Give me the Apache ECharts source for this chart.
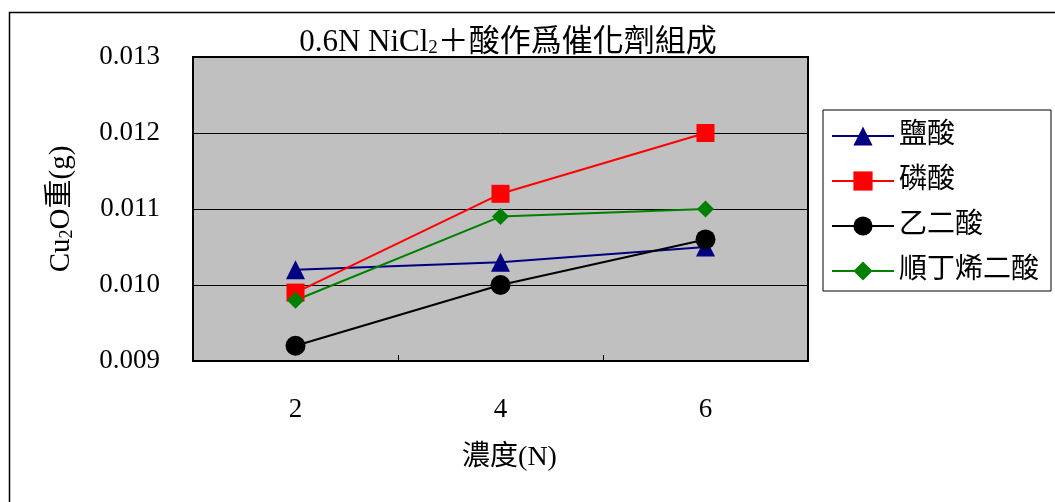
<!DOCTYPE html>
<html>
<head>
<meta charset="utf-8">
<script src="https://cdn.jsdelivr.net/npm/echarts@6/dist/echarts.min.js"></script>
<style>
  html, body { margin: 0; padding: 0; background: #fff; }
  #chart { width: 1055px; height: 502px; }
</style>
</head>
<body>
<div id="chart"></div>
<script>
// 濃度 (N)
var categories = ['2', '4', '6'];
// Cu2O 重 (g)
var hclData = [0.0102, 0.0103, 0.0105];       // 鹽酸
var phosData = [0.0099, 0.0112, 0.0120];      // 磷酸
var oxalicData = [0.0092, 0.0100, 0.0106];    // 乙二酸
var maleicData = [0.0098, 0.0109, 0.0110];    // 順丁烯二酸
var seriesNames = ['鹽酸', '磷酸', '乙二酸', '順丁烯二酸'];

var FONT = '"Liberation Serif", "Noto Sans CJK TC", serif';

function makeLine(name, data, color, symbol, size) {
  return {
    name: name,
    type: 'line',
    data: data,
    symbol: symbol,
    symbolSize: size,
    itemStyle: { color: color },
    lineStyle: { color: color, width: 2 },
    z: 3
  };
}

var chart = echarts.init(document.getElementById('chart'));
var option = {
  backgroundColor: '#fff',
  animation: false,
  title: {
    text: '0.6N NiCl{sub|2}＋酸作爲催化劑組成',
    left: 503,
    textAlign: 'center',
    top: 22,
    textStyle: {
      fontFamily: FONT,
      fontSize: 31,
      fontWeight: 'normal',
      color: '#000',
      rich: {
        sub: { fontFamily: FONT, fontSize: 19, verticalAlign: 'bottom', padding: [12, 0, 0, 0], color: '#000' }
      }
    }
  },
  graphic: [
    { type: 'rect', shape: { x: 9.5, y: 12.5, width: 1200, height: 600 },
      style: { fill: null, stroke: '#000', lineWidth: 1.5 }, silent: true }
  ],
  legend: {
    orient: 'vertical',
    left: 823,
    top: 110,
    width: 230,
    padding: [12, 12, 6, 8],
    itemGap: 17,
    itemWidth: 62,
    itemHeight: 24,
    borderColor: '#000',
    borderWidth: 1,
    backgroundColor: '#fff',
    textStyle: { fontFamily: FONT, fontSize: 28, color: '#000', width: 148 },
    data: seriesNames
  },
  grid: {
    left: 193,
    right: 247,
    top: 57,
    bottom: 141,
    show: true,
    backgroundColor: '#c0c0c0',
    borderColor: '#000',
    borderWidth: 2
  },
  xAxis: {
    type: 'category',
    data: categories,
    boundaryGap: true,
    name: '濃度(N)',
    nameLocation: 'middle',
    nameGap: 83,
    nameTextStyle: { fontFamily: FONT, fontSize: 28, color: '#000', padding: [0, 0, 0, 18] },
    axisLine: { lineStyle: { color: '#000', width: 2 } },
    axisTick: { show: true, inside: true, length: 6, lineStyle: { color: '#000' } },
    axisLabel: { fontFamily: FONT, fontSize: 27, color: '#000', margin: 35 }
  },
  yAxis: {
    type: 'value',
    min: 0.009,
    max: 0.013,
    interval: 0.001,
    name: 'Cu{sub|2}O重(g)',
    nameLocation: 'middle',
    nameGap: 117,
    nameRotate: 90,
    nameTextStyle: {
      fontFamily: FONT, fontSize: 29, color: '#000',
      rich: { sub: { fontFamily: FONT, fontSize: 18, padding: [12, 0, 0, 0], color: '#000' } }
    },
    axisLine: { show: true, lineStyle: { color: '#000', width: 2 } },
    axisTick: { show: true, inside: true, length: 6, lineStyle: { color: '#000' } },
    axisLabel: {
      fontFamily: FONT, fontSize: 27, color: '#000', margin: 33,
      formatter: function (v) { return v.toFixed(3); }
    },
    splitLine: { show: true, lineStyle: { color: '#000', width: 1 } }
  },
  series: [
    makeLine(seriesNames[0], hclData, '#000080', 'triangle', 19),
    makeLine(seriesNames[1], phosData, '#ff0000', 'rect', 18),
    makeLine(seriesNames[2], oxalicData, '#000000', 'circle', 20),
    makeLine(seriesNames[3], maleicData, '#008000', 'diamond', 17)
  ]
};
chart.setOption(option);
</script>
</body>
</html>
